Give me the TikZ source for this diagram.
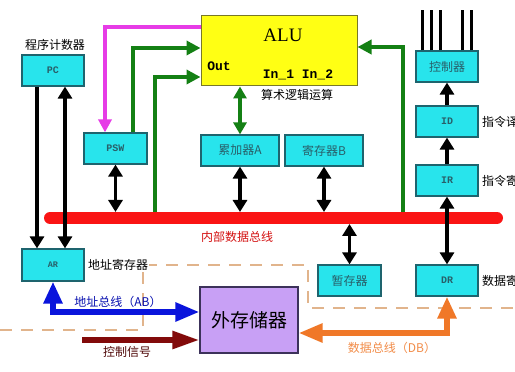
\documentclass[tikz,border=0pt]{standalone}
\usepackage{fontspec}
\setmainfont{Liberation Serif}
\newfontfamily\cjk{Noto Sans CJK SC}
\newfontfamily\monofnt{Liberation Mono}
\usepackage{tikz}
\usetikzlibrary{arrows.meta, positioning, calc}
\definecolor{BoxCyan}{RGB}{40,228,236}
\definecolor{BoxEdge}{RGB}{30,100,110}
\definecolor{BoxText}{RGB}{40,95,105}
\definecolor{AluYellow}{RGB}{255,255,20}
\definecolor{AluEdge}{RGB}{120,120,40}
\definecolor{FlowGreen}{RGB}{20,128,20}
\definecolor{PswMagenta}{RGB}{230,60,230}
\definecolor{BusRed}{RGB}{250,20,20}
\definecolor{AddrBlue}{RGB}{10,20,220}
\definecolor{CtrlRed}{RGB}{130,10,10}
\definecolor{DataOrange}{RGB}{240,120,40}
\definecolor{MemPurple}{RGB}{200,160,245}
\definecolor{MemEdge}{RGB}{60,50,90}
\definecolor{DashTan}{RGB}{225,180,140}

\begin{document}
\begin{tikzpicture}[
  x=1pt, y=1pt,
  font=\cjk\fontsize{12}{14}\selectfont,
  reg/.style={rectangle, draw=BoxEdge, line width=1.2pt, fill=BoxCyan,
              minimum width=62pt, minimum height=31pt, inner sep=0pt,
              text=BoxText},
  latin/.style={font=\monofnt\bfseries\fontsize{10}{12}\selectfont},
  alubox/.style={rectangle, draw=AluEdge, line width=1pt, fill=AluYellow,
                 minimum width=156pt, minimum height=70pt},
  membox/.style={rectangle, draw=MemEdge, line width=1.2pt, fill=MemPurple,
                 minimum width=98pt, minimum height=66pt,
                 font=\cjk\fontsize{19}{22}\selectfont},
  lbl/.style={inner sep=0pt},
  blk/.style={-{Triangle[length=12pt,width=14pt]}, line width=3.4pt},
  blk2/.style={{Triangle[length=12pt,width=14pt]}-{Triangle[length=12pt,width=14pt]},
               line width=3.4pt},
  grn/.style={-{Triangle[length=14pt,width=14pt]}, line width=3.8pt, FlowGreen},
  grn2/.style={{Triangle[length=12pt,width=13pt]}-{Triangle[length=12pt,width=13pt]},
               line width=3.8pt, FlowGreen},
  mag/.style={-{Triangle[length=13pt,width=13pt]}, line width=3.8pt, PswMagenta},
  wide/.style={{Triangle[length=22pt,width=18pt]}-{Triangle[length=24pt,width=18pt]},
               line width=5.5pt},
  bus/.style={line width=12pt, line cap=round, BusRed},
  memline/.style={DashTan, line width=1.3pt, dash pattern=on 12pt off 9pt},
]

\fill[white] (0,0) rectangle (515,372);
\useasboundingbox (0,0) rectangle (515,372);
\clip (0,0) rectangle (515,372);

\draw[memline] (0,42) -- (143,42) -- (143,107) -- (308,107) -- (308,64) -- (515,64);

\node[reg, latin] (pc)   at (53,301.5)  {PC};
\node[reg, latin, minimum width=63pt] (psw) at (115.5,223.5) {PSW};
\node[alubox] (alu)      at (279,321)   {};
\node[reg, minimum width=78pt] (accA) at (240,221.5) {累加器A};
\node[reg, minimum width=78pt] (regB) at (324,221.5) {寄存器B};
\node[reg] (ctrl)        at (447,305.5) {控制器};
\node[reg, latin] (idec) at (447,250.5) {ID};
\node[reg, latin] (ir)   at (447,191.5) {IR};
\node[reg, latin, font=\monofnt\bfseries\fontsize{8.5}{10}\selectfont, minimum height=32pt] (ar) at (53,107) {AR};
\node[reg, minimum width=63pt] (tmp) at (349.5,91.5) {暂存器};
\node[reg, latin] (dr)   at (447,91.5)  {DR};
\node[membox] (mem)      at (249,52)    {外存储器};

\node[lbl, font=\fontsize{19}{21}\selectfont] (alut) at (283,337) {ALU};
\node[lbl, font=\monofnt\bfseries\fontsize{13}{15}\selectfont] (out) at (219,306) {Out};
\node[lbl, font=\monofnt\bfseries\fontsize{13}{15}\selectfont] (ins) at (298,297) {In\_1 In\_2};

\node[lbl] (pcname)   at (55,327)  {程序计数器};
\node[lbl] (aluname)  at (297,277) {算术逻辑运算};
\node[lbl, text=BusRed!85!black] (busname) at (237,135) {内部数据总线};
\node[lbl, fill=white, inner sep=1pt, anchor=west] (arname) at (87,107) {地址寄存器};
\node[lbl, anchor=west] (idname) at (482,250.5) {指令译码器};
\node[lbl, anchor=west] (irname) at (482,191.5) {指令寄存器};
\node[lbl, anchor=west] (drname) at (482,91.5)  {数据寄存器};
\node[lbl, text=AddrBlue!80!black] (abname) at (118,70) {地址总线（AB）};
\node[lbl, text=CtrlRed!60!black] (ctlname) at (127,20) {控制信号};
\node[lbl, text=DataOrange!85!white] (dbname) at (392,24) {数据总线（DB）};

\coordinate (busL) at (50,154);
\coordinate (busR) at (497,154);
\coordinate (busT) at (0,160);
\coordinate (busB) at (0,148);
\coordinate (g2)   at (155,154);
\coordinate (g3)   at (403,154);
\coordinate (wires) at (0,362);
\coordinate (ctlsrc) at (82,32);

\draw[mag] ([yshift=24pt]alu.west) -| ([xshift=-10.5pt]psw.north);
\draw[grn] ([xshift=17.5pt]psw.north) |- ([yshift=3pt]alu.west);
\draw[grn] (g2) |- ([yshift=-26pt]alu.west);
\draw[grn] (g3) |- ([yshift=4pt]alu.east);
\draw[grn2] (accA.north) -- (accA.north |- alu.south);

\draw[bus] (busL) -- (busR);

\draw[blk] ([xshift=-16pt]pc.south) -- ([xshift=-16pt]ar.north);
\draw[blk2] ([xshift=12pt]pc.south) -- ([xshift=12pt]ar.north);
\draw[blk2] (psw.south) -- (psw.south |- busT);
\draw[blk2] (accA.south) -- (accA.south |- busT);
\draw[blk2] (regB.south) -- (regB.south |- busT);
\draw[blk2] (tmp.north) -- (tmp.north |- busB);
\draw[blk2] (dr.north) -- (ir.south);
\draw[blk] (ir.north) -- (idec.south);
\draw[blk] (idec.north) -- (ctrl.south);
\foreach \dx in {-25,-16,-7,15,24}
  \draw[line width=3pt] ([xshift=\dx pt]ctrl.north) -- ([xshift=\dx pt]ctrl.north |- wires);

\draw[wide, AddrBlue] (ar.south) |- ([yshift=8pt]mem.west);
\draw[-{Triangle[length=27pt,width=17pt]}, line width=5.5pt, CtrlRed] (ctlsrc) -- (ctlsrc -| mem.west);
\draw[wide, DataOrange] (dr.south) |- ([yshift=-13pt]mem.east);

\end{tikzpicture}
\end{document}
